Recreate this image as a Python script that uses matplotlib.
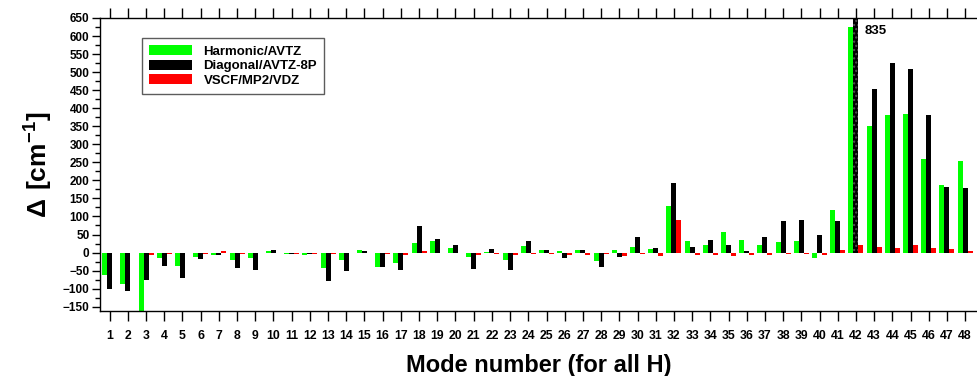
import matplotlib
matplotlib.use("Agg")
import matplotlib.pyplot as plt
import numpy as np
from matplotlib.ticker import MultipleLocator

plt.rcParams['font.family'] = ['Liberation Sans', 'DejaVu Sans']
plt.rcParams['font.weight'] = 'bold'
plt.rcParams['mathtext.fontset'] = 'custom'
plt.rcParams['mathtext.rm'] = 'Liberation Sans'
plt.rcParams['mathtext.bf'] = 'Liberation Sans:bold'

modes = list(range(1, 49))
harmonic = [-63, -87, -170, -15, -36, -12, -7, -20, -16, 4, -3, -7,
            -44, -21, 8, -40, -30, 26, 33, 13, -13, 2, -22, 17,
            8, 3, 8, -24, 8, 15, 11, 129, 31, 20, 57, 35,
            21, 29, 32, -14, 118, 625, 351, 382, 385, 259, 188, 254]
diagonal = [-100, -106, -75, -36, -70, -17, -8, -42, -47, 7, -3, -4,
            -80, -52, 5, -40, -48, 73, 37, 21, -46, 10, -49, 31,
            8, -15, 7, -39, -11, 43, 13, 192, 15, 35, 22, 5,
            42, 87, 89, 48, 88, 835, 454, 524, 509, 381, 182, 178]
vscf = [-2, -2, -7, -3, -2, -3, 3, -3, -2, -2, -3, -3,
        -3, -2, -2, -3, -6, 5, -2, -2, -7, -5, -8, -4,
        -4, -6, -6, -4, -9, -3, -10, 90, -8, -8, -9, -8,
        -8, -3, -3, -8, 7, 22, 15, 13, 21, 12, 9, 5]
labels = ['Harmonic/AVTZ', 'Diagonal/AVTZ-8P', 'VSCF/MP2/VDZ']
ymin, ymax = -162, 650

fig = plt.figure(figsize=(9.77, 3.76), dpi=100)
ax = fig.add_axes([100/977, 1-311/376, 877/977, 293/376])

x = np.array(modes, dtype=float)
w = 0.275
ax.bar(x - w, harmonic, w, color='#00FF00', label=labels[0], linewidth=0)
bd = ax.bar(x, diagonal, w, color='black', label=labels[1], linewidth=0)
ax.bar(x + w, vscf, w, color='#FF0000', label=labels[2], linewidth=0)

# clipped bar for mode 42
i42 = modes.index(42)
bd[i42].set_hatch('....')
bd[i42].set_edgecolor('#555555')
ax.text(42 + 0.45, 614, str(diagonal[i42]), fontsize=9.5, fontweight='bold',
        va='center', ha='left')

ax.set_xlim(0.47, 48.65)
ax.set_ylim(ymin, ymax)
ax.set_xticks(modes)
ax.set_xticklabels([str(m) for m in modes], fontsize=8.8, fontweight='bold')
ax.yaxis.set_major_locator(MultipleLocator(50))
ax.yaxis.set_minor_locator(MultipleLocator(25))
for lab in ax.get_yticklabels():
    lab.set_fontsize(8.5)
    lab.set_fontweight('bold')
ax.tick_params(axis='x', which='both', direction='out', top=True, bottom=True,
               length=7, width=1, pad=7, labeltop=False)
ax.tick_params(axis='y', which='major', direction='out', length=6, width=1, pad=1.5)
ax.tick_params(axis='y', which='minor', direction='out', length=3.5, width=1)
ax.spines['right'].set_visible(False)
for s in ['left', 'top', 'bottom']:
    ax.spines[s].set_linewidth(1)

ax.set_xlabel('Mode number (for all H)', fontsize=17, fontweight='bold', labelpad=8)
ax.set_ylabel(r'$\Delta\ \mathbf{[cm}^{\mathbf{-1}}\mathbf{]}$', fontsize=19,
              fontweight='normal', labelpad=6)

leg = ax.legend(loc='upper left', bbox_to_anchor=(0.048, 0.932), borderaxespad=0,
                fontsize=9.5, frameon=True, fancybox=False, handlelength=3.2,
                handleheight=0.8, labelspacing=0.15, borderpad=0.55,
                handletextpad=0.9)
leg.get_frame().set_edgecolor('#333333')
leg.get_frame().set_linewidth(1)
for t in leg.get_texts():
    t.set_fontweight('bold')

fig.savefig('out.png', dpi=100)
